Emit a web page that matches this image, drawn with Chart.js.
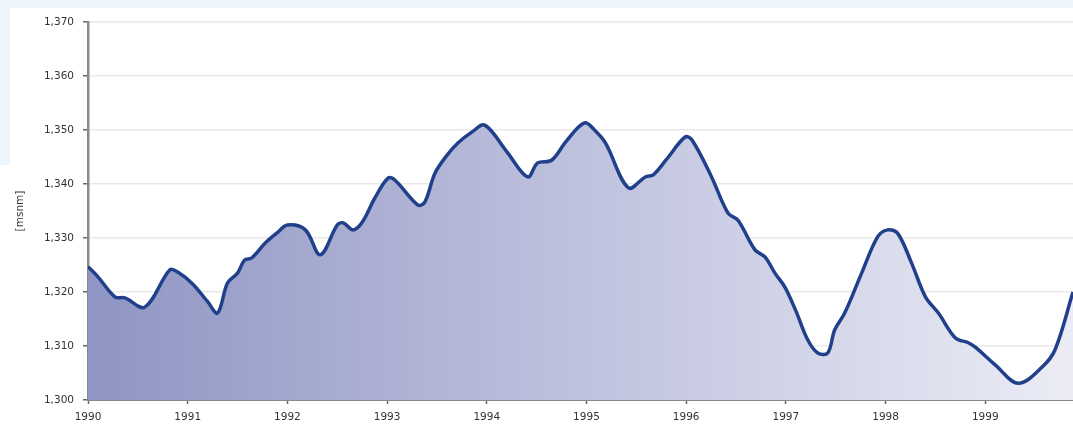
<!DOCTYPE html>
<html>
<head>
<meta charset="utf-8">
<script src="https://cdn.jsdelivr.net/npm/chart.js@4/dist/chart.umd.min.js"></script>
<style>
  body { margin: 0; background: #fff; }
  .band { position: absolute; background: #edf5fd; }
  #chart { position: absolute; left: 0; top: 0; }
</style>
</head>
<body>
<div class="band" style="left:0;top:0;width:1073px;height:8px"></div>
<div class="band" style="left:0;top:0;width:10px;height:165px"></div>
<canvas id="chart" width="1073" height="425"></canvas>
<script>
// ===== Data =====
const years = [
  1990.00, 1990.10, 1990.27, 1990.37, 1990.57, 1990.82, 1990.90, 1991.05, 1991.20, 1991.30,
  1991.40, 1991.50, 1991.57, 1991.64, 1991.78, 1991.90, 1992.00, 1992.18, 1992.33, 1992.50,
  1992.56, 1992.66, 1992.75, 1992.88, 1993.01, 1993.08, 1993.31, 1993.38, 1993.48, 1993.60,
  1993.71, 1993.85, 1993.98, 1994.20, 1994.41, 1994.51, 1994.65, 1994.80, 1994.98, 1995.08,
  1995.19, 1995.42, 1995.59, 1995.67, 1995.80, 1995.99, 1996.06, 1996.25, 1996.42, 1996.52,
  1996.69, 1996.79, 1996.89, 1996.99, 1997.10, 1997.22, 1997.32, 1997.42, 1997.49, 1997.59,
  1997.76, 1997.92, 1998.02, 1998.12, 1998.26, 1998.40, 1998.53, 1998.70, 1998.83, 1998.90,
  1999.10, 1999.33, 1999.57, 1999.70, 1999.88
];
const levels = [
  1324.7, 1322.8, 1319.1, 1318.9, 1317.2, 1324.1, 1323.7, 1321.5, 1318.2, 1316.1,
  1321.7, 1323.5, 1325.9, 1326.3, 1329.1, 1331.0, 1332.4, 1331.5, 1326.9, 1332.4,
  1332.8, 1331.5, 1332.9, 1337.5, 1341.1, 1340.7, 1336.1, 1336.7, 1342.0, 1345.3,
  1347.6, 1349.6, 1350.9, 1346.0, 1341.3, 1343.9, 1344.4, 1348.0, 1351.3, 1350.0,
  1347.6, 1339.3, 1341.3, 1341.7, 1344.5, 1348.7, 1348.1, 1341.5, 1334.6, 1333.3,
  1327.8, 1326.5, 1323.5, 1320.9, 1316.5, 1311.1, 1308.7, 1308.7, 1313.0, 1316.1,
  1323.5, 1330.2, 1331.5, 1330.9, 1325.4, 1319.1, 1316.1, 1311.5, 1310.6, 1309.8,
  1306.5, 1303.1, 1306.1, 1309.3, 1320.0
];
const yearTicks = [1990, 1991, 1992, 1993, 1994, 1995, 1996, 1997, 1998, 1999];
const levelTicks = [1300, 1310, 1320, 1330, 1340, 1350, 1360, 1370];

const points = years.map((x, i) => ({ x: x, y: levels[i] }));
const font = { family: "DejaVu Sans", size: 10.5 };

new Chart(document.getElementById("chart"), {
  type: "line",
  data: {
    datasets: [{
      data: points,
      borderColor: "#21408b",
      borderWidth: 3.5,
      pointRadius: 0,
      tension: 0.35,
      fill: "start",
      backgroundColor: ctx => {
        const area = ctx.chart.chartArea;
        if (!area) return "#b0b4d6";
        const g = ctx.chart.ctx.createLinearGradient(area.left, 0, area.right, 0);
        g.addColorStop(0, "#8f95c4");
        g.addColorStop(0.5, "#bfc2de");
        g.addColorStop(1, "#ebecf5");
        return g;
      }
    }]
  },
  options: {
    responsive: false,
    animation: false,
    layout: { padding: { top: 22, right: 0, left: 0, bottom: 0 } },
    plugins: { legend: { display: false }, tooltip: { enabled: false } },
    scales: {
      x: {
        type: "linear",
        min: 1990,
        max: 1999.88,
        afterBuildTicks: s => { s.ticks = yearTicks.map(v => ({ value: v })); },
        afterFit: s => { s.height = 25; },
        grid: { drawOnChartArea: false, tickLength: 4, tickColor: "#666", tickWidth: 1.5 },
        border: { color: "#8a8a8a", width: 2 },
        ticks: { color: "#333", font: font, padding: 7, maxRotation: 0, callback: v => String(v) }
      },
      y: {
        min: 1300,
        max: 1370,
        afterBuildTicks: s => { s.ticks = levelTicks.map(v => ({ value: v })); },
        afterFit: s => { s.width = 88; },
        grid: { color: "#e9e9e9", lineWidth: 1.5, tickLength: 5, tickColor: "#666", tickWidth: 1.5 },
        border: { color: "#8a8a8a", width: 2.5 },
        ticks: {
          color: "#333", font: font, padding: 9,
          callback: v => v.toLocaleString("en-US")
        },
        title: {
          display: true, text: "[msnm]", color: "#333", font: font,
          padding: { top: 14, bottom: 0 }
        }
      }
    }
  }
});
</script>
</body>
</html>
